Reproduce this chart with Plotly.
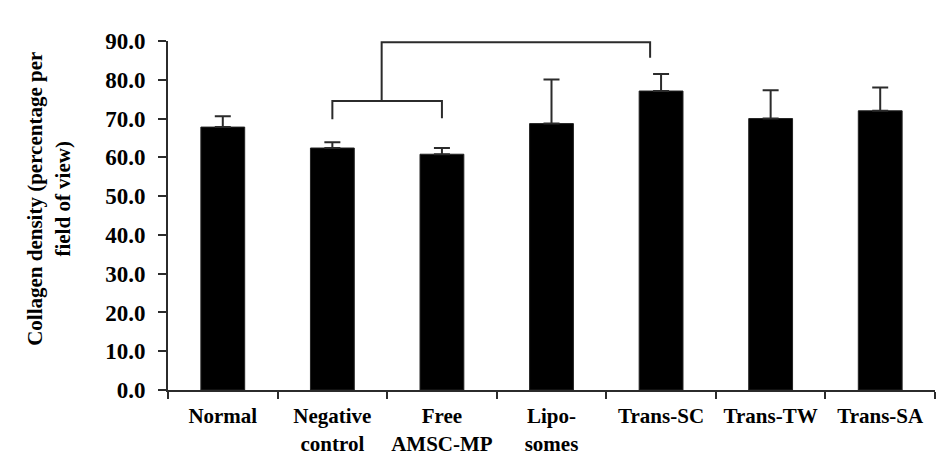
import plotly.graph_objects as go

# data
groups = ["Normal", "Negative<br>control", "Free<br>AMSC-MP", "Lipo-<br>somes",
          "Trans-SC", "Trans-TW", "Trans-SA"]
collagen = [67.8, 62.4, 60.8, 68.7, 77.1, 70.0, 72.0]
sd_upper = [2.8, 1.5, 1.6, 11.4, 4.4, 7.3, 6.0]
y_ticks = [0, 10, 20, 30, 40, 50, 60, 70, 80, 90]

serif = "Liberation Serif, Times New Roman, serif"
line_col = "#2b2b2b"

fig = go.Figure()
fig.add_trace(go.Bar(
    x=list(range(len(groups))),
    y=collagen,
    width=0.4,
    marker=dict(color="black", line=dict(color="#222", width=1)),
    error_y=dict(type="data", array=sd_upper, symmetric=False,
                 arrayminus=[0] * len(groups),
                 color=line_col, thickness=2, width=8),
))

# significance brackets (in data units: category index / value)
neg, free, tsc = 1, 2, 4
mid = 1.45
brackets = [
    [(neg, 69.8), (neg, 74.5), (free, 74.5), (free, 70.1)],
    [(mid, 74.5), (mid, 89.7), (tsc - 0.1, 89.7), (tsc - 0.1, 85.7)],
]
for pts in brackets:
    path = "M " + " L ".join(f"{x},{y}" for x, y in pts)
    fig.add_shape(type="path", path=path, xref="x", yref="y",
                  line=dict(color=line_col, width=2))

fig.add_annotation(x=2.6, y=93.5, xref="x", yref="y", text="*",
                   showarrow=False, yanchor="middle",
                   font=dict(family=serif, size=30, color="black", weight="bold"))

# y-axis title as a rotated annotation so it sits where the original does
fig.add_annotation(x=-0.155, y=0.548, xref="paper", yref="paper",
                   text="Collagen density (percentage per<br>field of view)",
                   textangle=-90, showarrow=False,
                   xanchor="center", yanchor="middle",
                   font=dict(family=serif, size=21, color="black", weight="bold"))

fig.update_layout(
    width=936, height=455,
    margin=dict(l=168, r=1, t=41, b=65),
    plot_bgcolor="white", paper_bgcolor="white",
    showlegend=False,
    font=dict(family=serif, color="black", weight="bold"),
    xaxis=dict(
        automargin=False,
        range=[-0.5, len(groups) - 0.5],
        tickmode="array",
        tickvals=list(range(len(groups))),
        ticktext=groups,
        showline=True, linecolor=line_col, linewidth=2,
        ticks="", showgrid=False, zeroline=False,
        ticklabelstandoff=6,
        tickfont=dict(family=serif, size=21, weight="bold"),
        minor=dict(tickmode="array",
                   tickvals=[i - 0.5 for i in range(len(groups) + 1)],
                   ticks="outside", ticklen=7, tickwidth=2, tickcolor=line_col),
    ),
    yaxis=dict(
        automargin=False,
        range=[0, 90],
        tickmode="array",
        tickvals=y_ticks,
        tickformat=".1f",
        showline=True, linecolor=line_col, linewidth=2,
        ticks="outside", ticklen=8, tickwidth=2, tickcolor=line_col,
        showgrid=False, zeroline=False,
        ticklabelstandoff=8,
        tickfont=dict(family=serif, size=23, weight="bold"),
    ),
)

# drop the default page margin so the figure fills the window exactly
fig.write_html("out.html", config={"displayModeBar": False},
               post_script="document.body.style.margin='0px';")
